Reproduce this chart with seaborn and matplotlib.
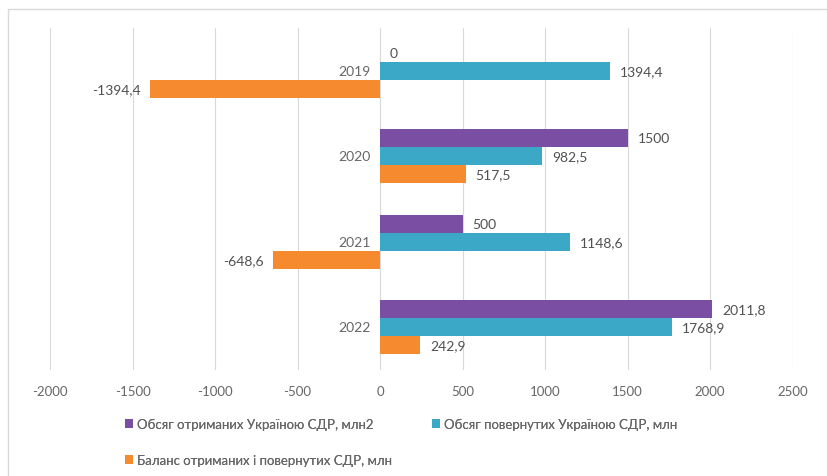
import numpy as np
import pandas as pd
import matplotlib
matplotlib.use("Agg")
import matplotlib.pyplot as plt
import seaborn as sns
from matplotlib.patches import Rectangle

years = ["2019", "2020", "2021", "2022"]
series = ["Обсяг отриманих Україною СДР, млн2",
          "Обсяг повернутих Україною СДР, млн",
          "Баланс отриманих і повернутих СДР, млн"]
received = [0, 1500, 500, 2011.8]
returned = [1394.4, 982.5, 1148.6, 1768.9]
balance = [-1394.4, 517.5, -648.6, 242.9]
colors = ["#7a4fa3", "#3aa8c6", "#f58b2e"]
xticks = [-2000, -1500, -1000, -500, 0, 500, 1000, 1500, 2000, 2500]

df = pd.DataFrame({
    "year": years * 3,
    "series": [series[0]] * 4 + [series[1]] * 4 + [series[2]] * 4,
    "value": received + returned + balance,
})

sns.set_style("white")
plt.rcParams['font.family'] = ['Lato', 'DejaVu Sans']

fig = plt.figure(figsize=(8.27, 4.77), dpi=100)
ax = fig.add_axes([0.0605, 0.222, 0.898, 0.717])

sns.barplot(data=df, y="year", x="value", hue="series", order=years,
            hue_order=series, palette=colors, orient="h", width=0.63,
            saturation=1, linewidth=0, ax=ax, legend=True)

ax.set_xlim(-2000, 2500)
ax.set_xticks(xticks)
ax.set_xticklabels([str(t) for t in xticks], fontsize=9.5, color="#666666")
ax.tick_params(axis="x", length=0, pad=11)
ax.set_yticks([])
ax.set_xlabel("")
ax.set_ylabel("")
for s in ax.spines.values():
    s.set_visible(False)
ax.grid(axis="x", color="#d9d9d9", linewidth=0.8)
ax.set_axisbelow(True)

# category labels next to zero line
for i, y in enumerate(years):
    ax.annotate(y, (0, i), xytext=(-7, 0), textcoords="offset points",
                ha="right", va="center", fontsize=10, color="#666666")

# value labels
for cont in ax.containers:
    for bar in cont:
        v = bar.get_width()
        yc = bar.get_y() + bar.get_height() / 2
        txt = f"{v:.1f}".replace(".", ",")
        if txt.endswith(",0"):
            txt = txt[:-2]
        if v < 0:
            ax.annotate(txt, (v, yc), xytext=(-7, 0), textcoords="offset points",
                        ha="right", va="center", fontsize=10, color="#505050")
        else:
            ax.annotate(txt, (v, yc), xytext=(7, 0), textcoords="offset points",
                        ha="left", va="center", fontsize=10, color="#505050")

handles, labels = ax.get_legend_handles_labels()
ax.legend_.remove()
spots = [(125 / 827, 1 - 425 / 477), (432 / 827, 1 - 425 / 477), (125 / 827, 1 - 461 / 477)]
for h, lab, (lx, ly) in zip(handles, labels, spots):
    leg = fig.legend([h], [lab], loc="center left", bbox_to_anchor=(lx, ly),
                     frameon=False, fontsize=9.5, labelcolor="#666666",
                     handlelength=0.6, handleheight=0.6, handletextpad=0.3,
                     borderpad=0, borderaxespad=0)
    fig.add_artist(leg)

fig.add_artist(Rectangle((0.01, -0.05), 1.05, 1.028, transform=fig.transFigure,
                         fill=False, edgecolor="#d9d9d9", linewidth=1))

fig.savefig("out.png", dpi=100)
